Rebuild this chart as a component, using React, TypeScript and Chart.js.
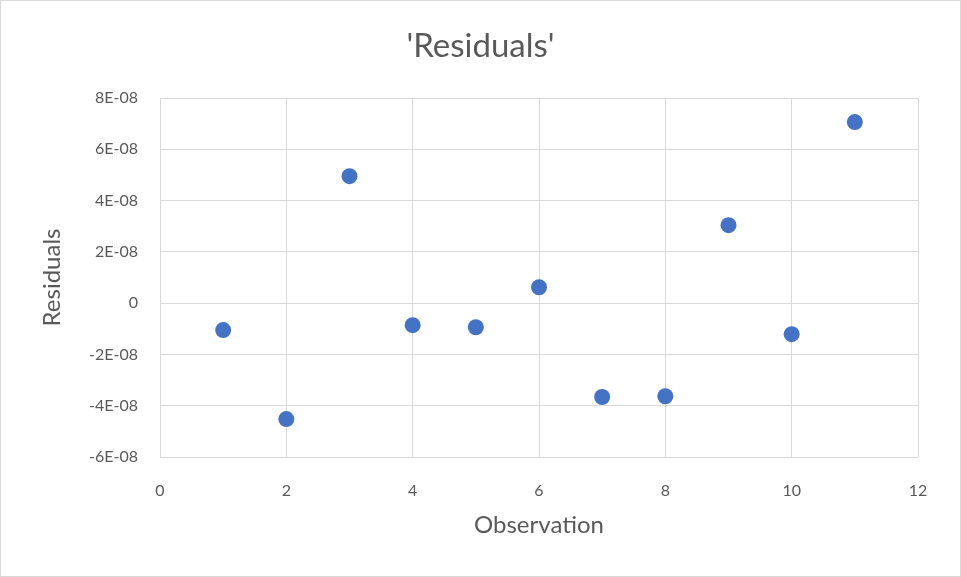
import React, { useEffect, useRef } from "react";
import { Chart, registerables } from "chart.js";

Chart.register(...registerables);

const observations = [1, 2, 3, 4, 5, 6, 7, 8, 9, 10, 11];
const residuals = [
  -1.05e-8, -4.52e-8, 4.95e-8, -0.86e-8, -0.94e-8, 0.62e-8, -3.66e-8, -3.63e-8,
  3.04e-8, -1.21e-8, 7.06e-8,
];
const chartTitle = "'Residuals'";
const xTitle = "Observation";
const yTitle = "Residuals";

const FONT = "Lato, 'Open Sans', sans-serif";
const TEXT = "#595959";
const GRID = "#d9d9d9";

function fmtY(v: number): string {
  const n = Math.round(v / 1e-8);
  if (n === 0) return "0";
  return `${n}E-08`;
}

export default function App() {
  const ref = useRef<HTMLCanvasElement | null>(null);
  useEffect(() => {
    if (!ref.current) return;
    const chart = new Chart(ref.current, {
      type: "scatter",
      data: {
        datasets: [
          {
            label: yTitle,
            data: observations.map((x, i) => ({ x, y: residuals[i] })),
            backgroundColor: "#4472C4",
            borderColor: "#4472C4",
            pointRadius: 8,
            pointBorderWidth: 0,
          },
        ],
      },
      options: {
        animation: false,
        responsive: false,
        layout: { padding: 0 },
        plugins: {
          legend: { display: false },
          tooltip: { enabled: false },
          title: {
            display: true,
            text: chartTitle,
            color: TEXT,
            font: { family: FONT, size: 33, weight: "normal", lineHeight: 1.2 },
            padding: { top: 27, bottom: 31.4 },
          },
        },
        scales: {
          x: {
            type: "linear",
            min: 0,
            max: 12,
            ticks: {
              stepSize: 2,
              color: TEXT,
              font: { family: FONT, size: 16 },
              padding: 24,
            },
            grid: { color: GRID, lineWidth: 1, drawTicks: false },
            border: { display: false },
            title: {
              display: true,
              text: xTitle,
              color: TEXT,
              font: { family: FONT, size: 24 },
              padding: { top: 0, bottom: 37 },
            },
            afterFit: (s: any) => {
              s.height = 120;
            },
          },
          y: {
            type: "linear",
            min: -6e-8,
            max: 8e-8,
            ticks: {
              stepSize: 2e-8,
              color: TEXT,
              font: { family: FONT, size: 16 },
              padding: 22,
              callback: (v: any) => fmtY(Number(v)),
            },
            grid: { color: GRID, lineWidth: 1, drawTicks: false },
            border: { display: false },
            title: {
              display: true,
              text: yTitle,
              color: TEXT,
              font: { family: FONT, size: 24 },
              padding: { top: 38, bottom: 0 },
            },
            afterFit: (s: any) => {
              s.width = 160;
            },
          },
          spacer: {
            type: "linear",
            position: "right",
            display: true,
            ticks: { display: false },
            grid: { display: false, drawTicks: false },
            border: { display: false },
            afterFit: (s: any) => {
              s.width = 43;
            },
          },
        },
      },
    });
    return () => chart.destroy();
  }, []);
  return (
    <div
      style={{
        position: "fixed",
        left: 0,
        top: 0,
        width: 961,
        height: 577,
        background: "#fff",
      }}
    >
      <canvas ref={ref} width={961} height={577} style={{ display: "block" }} />
      <div
        style={{
          position: "absolute",
          left: 0,
          top: 0,
          width: 961,
          height: 577,
          boxSizing: "border-box",
          border: "1px solid #d9d9d9",
          pointerEvents: "none",
        }}
      />
    </div>
  );
}
